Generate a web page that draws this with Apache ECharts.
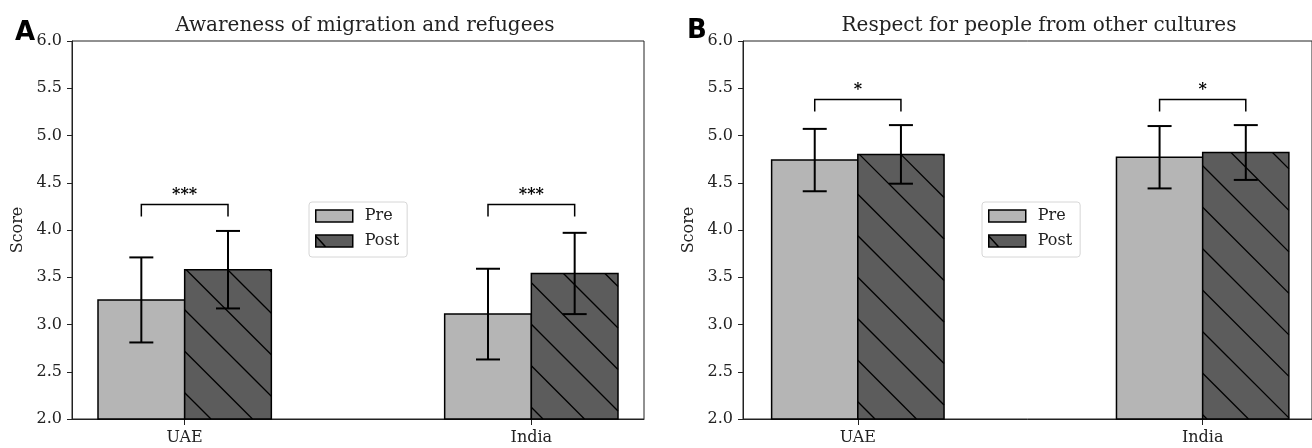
<!DOCTYPE html>
<html>
<head>
<meta charset="utf-8">
<script src="https://cdn.jsdelivr.net/npm/echarts/dist/echarts.min.js"></script>
<style>
  html, body { margin: 0; padding: 0; background: #fff; }
  #chart { width: 1312px; height: 448px; }
</style>
</head>
<body>
<div id="chart"></div>
<script>
// data
var categories = ["UAE", "India"];
var preA = [3.26, 3.11];
var postA = [3.58, 3.54];
var preA_sd = [0.45, 0.48];
var postA_sd = [0.41, 0.43];
var preB = [4.74, 4.77];
var postB = [4.80, 4.82];
var preB_sd = [0.33, 0.33];
var postB_sd = [0.31, 0.29];
var sigA = ["***", "***"];
var sigB = ["*", "*"];
var bracketA = [4.27, 4.27];
var bracketB = [5.38, 5.38];
var yTicks = [2.0, 2.5, 3.0, 3.5, 4.0, 4.5, 5.0, 5.5, 6.0];

var FONT = "DejaVu Serif";
var BAR_W = 0.25;
var HATCH = 41.5; // vertical spacing of hatch lines in px

var chart = echarts.init(document.getElementById("chart"));

function hatchLines(x0, y0, x1, y1) {
  var lines = [];
  // lines y = x + c in screen coords
  var cMin = y0 - x1, cMax = y1 - x0;
  var start = Math.floor((cMin - 125) / HATCH) * HATCH + 125;
  for (var c = start; c <= cMax; c += HATCH) {
    var xs = Math.max(x0, y0 - c), xe = Math.min(x1, y1 - c);
    if (xe - xs < 0.5) continue;
    lines.push({
      type: "line",
      shape: { x1: xs, y1: xs + c, x2: xe, y2: xe + c },
      style: { stroke: "#000", lineWidth: 1.3 }
    });
  }
  return lines;
}

function barSeries(name, vals, grid, offset, fill, hatched) {
  return {
    name: name,
    type: "custom",
    xAxisIndex: grid, yAxisIndex: grid,
    itemStyle: { color: fill, borderColor: "#000", borderWidth: 1.5 },
    data: vals.map(function (v, i) { return [i + offset, v]; }),
    renderItem: function (params, api) {
      var x = api.value(0), y = api.value(1);
      var p0 = api.coord([x - BAR_W / 2, y]);
      var p1 = api.coord([x + BAR_W / 2, 2]);
      var shape = { x: p0[0], y: p0[1], width: p1[0] - p0[0], height: p1[1] - p0[1] };
      var children = [{ type: "rect", shape: shape, style: { fill: fill, stroke: "none" } }];
      if (hatched) children = children.concat(hatchLines(p0[0], p0[1], p1[0], p1[1]));
      children.push({ type: "rect", shape: shape, style: { fill: "none", stroke: "#000", lineWidth: 1.5 } });
      return { type: "group", children: children };
    },
    z: 2
  };
}

function errSeries(vals, sds, grid, offset) {
  return {
    name: "err",
    type: "custom",
    xAxisIndex: grid, yAxisIndex: grid,
    data: vals.map(function (v, i) { return [i + offset, v - sds[i], v + sds[i]]; }),
    renderItem: function (params, api) {
      var lo = api.coord([api.value(0), api.value(1)]);
      var hi = api.coord([api.value(0), api.value(2)]);
      var cap = 12;
      var st = { stroke: "#000", lineWidth: 2 };
      return {
        type: "group",
        children: [
          { type: "line", shape: { x1: lo[0], y1: lo[1], x2: hi[0], y2: hi[1] }, style: st },
          { type: "line", shape: { x1: lo[0] - cap, y1: lo[1], x2: lo[0] + cap, y2: lo[1] }, style: st },
          { type: "line", shape: { x1: hi[0] - cap, y1: hi[1], x2: hi[0] + cap, y2: hi[1] }, style: st }
        ]
      };
    },
    z: 5
  };
}

function bracketSeries(heights, labels, grid) {
  return {
    name: "sig",
    type: "custom",
    xAxisIndex: grid, yAxisIndex: grid,
    data: heights.map(function (h, i) { return [i - 0.125, i + 0.125, h]; }),
    renderItem: function (params, api) {
      var a = api.coord([api.value(0), api.value(2)]);
      var b = api.coord([api.value(1), api.value(2)]);
      var st = { stroke: "#000", lineWidth: 1.5, fill: "none" };
      return {
        type: "group",
        children: [
          { type: "polyline", shape: { points: [[a[0], a[1] + 12], a, b, [b[0], b[1] + 12]] }, style: st },
          { type: "text", x: (a[0] + b[0]) / 2, y: a[1] - 2,
            style: { text: labels[params.dataIndex], fill: "#000", font: "bold 16px " + FONT,
                     align: "center", verticalAlign: "bottom" } }
        ]
      };
    },
    z: 5
  };
}

function xAxisCfg(grid, min, max) {
  return {
    type: "value", gridIndex: grid, min: min, max: max,
    axisLine: { show: true, onZero: false, lineStyle: { color: "#222", width: 1 } },
    axisTick: { show: true, customValues: [0, 1], length: 6, lineStyle: { color: "#222" } },
    axisLabel: {
      customValues: [0, 1], margin: 11, color: "#222", fontSize: 16, fontFamily: FONT,
      formatter: function (v) { return categories[Math.round(v)]; }
    },
    splitLine: { show: false }
  };
}

function yAxisCfg(grid) {
  return {
    type: "value", gridIndex: grid, min: yTicks[0], max: yTicks[yTicks.length - 1], interval: 0.5,
    name: "Score", nameLocation: "middle", nameGap: 46,
    nameTextStyle: { color: "#222", fontSize: 16, fontFamily: FONT },
    axisLine: { show: true, onZero: false, lineStyle: { color: "#222", width: 1 } },
    axisTick: { show: true, inside: false, length: 5, lineStyle: { color: "#222" } },
    axisLabel: { margin: 10, color: "#222", fontSize: 16, fontFamily: FONT,
                 formatter: function (v) { return v.toFixed(1); } },
    splitLine: { show: false }
  };
}

function legendCfg(left) {
  return {
    left: left, top: 202, orient: "vertical",
    itemWidth: 37, itemHeight: 12, itemGap: 9,
    padding: [6, 8, 8, 6],
    borderColor: "#d6d6d6", borderWidth: 1, borderRadius: 3,
    backgroundColor: "#fff",
    textStyle: { color: "#222", fontSize: 16, lineHeight: 16, fontFamily: FONT, padding: [0, 0, 0, 7] },
    itemStyle: { borderColor: "#000", borderWidth: 1.5 },
    data: [
      { name: "Pre", icon: "rect" },
      { name: "Post", icon: "path://M0,0 L37,0 L37,12 L0,12 Z M0,1 L10,12" }
    ],
    selectedMode: false
  };
}

var option = {
  animation: false,
  textStyle: { fontFamily: FONT },
  title: [
    { text: "Awareness of migration and refugees", left: 360, top: 11, textAlign: "center",
      textStyle: { fontFamily: FONT, fontSize: 20, fontWeight: "normal", color: "#222" } },
    { text: "Respect for people from other cultures", left: 1034, top: 11, textAlign: "center",
      textStyle: { fontFamily: FONT, fontSize: 20, fontWeight: "normal", color: "#222" } },
    { text: "A", left: 10, top: 15,
      textStyle: { fontFamily: "DejaVu Sans", fontSize: 26, fontWeight: "bold", color: "#000" } },
    { text: "B", left: 682, top: 13,
      textStyle: { fontFamily: "DejaVu Sans", fontSize: 26, fontWeight: "bold", color: "#000" } }
  ],
  grid: [
    { left: 72, top: 41, width: 572, height: 378, show: true, borderColor: "#222", borderWidth: 1 },
    { left: 743, top: 41, width: 571, height: 378, show: true, borderColor: "#222", borderWidth: 1 }
  ],
  xAxis: [xAxisCfg(0, -0.325, 1.325), xAxisCfg(1, -0.333, 1.317)],
  yAxis: [yAxisCfg(0), yAxisCfg(1)],
  legend: [legendCfg(309), legendCfg(982)],
  series: [
    barSeries("Pre", preA, 0, -0.125, "#b5b5b5", false),
    barSeries("Post", postA, 0, 0.125, "#5c5c5c", true),
    errSeries(preA, preA_sd, 0, -0.125),
    errSeries(postA, postA_sd, 0, 0.125),
    bracketSeries(bracketA, sigA, 0),
    barSeries("Pre", preB, 1, -0.125, "#b5b5b5", false),
    barSeries("Post", postB, 1, 0.125, "#5c5c5c", true),
    errSeries(preB, preB_sd, 1, -0.125),
    errSeries(postB, postB_sd, 1, 0.125),
    bracketSeries(bracketB, sigB, 1)
  ]
};

chart.setOption(option);
</script>
</body>
</html>
